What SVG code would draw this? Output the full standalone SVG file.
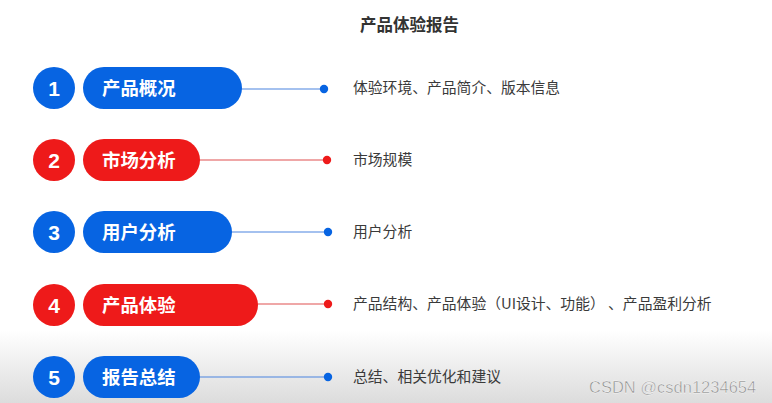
<svg xmlns="http://www.w3.org/2000/svg" width="772" height="403" viewBox="0 0 772 403">
<defs>
<linearGradient id="bg" x1="0" y1="0" x2="0" y2="1">
<stop offset="0" stop-color="#ffffff"/>
<stop offset="0.82" stop-color="#ffffff"/>
<stop offset="1" stop-color="#dcdcdc"/>
</linearGradient>
<style>
.blue{fill:#0764E2}
.red{fill:#EE1A1A}
.num{font-family:"Liberation Sans","Noto Sans CJK SC",sans-serif;font-weight:bold;font-size:21px;fill:#fff;text-anchor:middle}
.lbl{font-family:"Noto Sans CJK SC",sans-serif;font-weight:bold;font-size:18.4px;fill:#fff}
.desc{font-family:"Noto Sans CJK SC",sans-serif;font-size:14.8px;fill:#3a3a3a}
.lb{stroke:#4A84E0;stroke-width:1.2}
.lr{stroke:#E05050;stroke-width:1.2}
</style>
</defs>
<rect width="772" height="403" fill="url(#bg)"/>
<text x="360" y="31" font-family="'Noto Sans CJK SC',sans-serif" font-weight="bold" font-size="16.5" fill="#333">产品体验报告</text>
<g id="connectors">
<line class="lb" x1="240" y1="89" x2="324" y2="89"/><circle class="blue" cx="324" cy="89" r="4.2"/>
<line class="lr" x1="198" y1="160" x2="327" y2="160"/><circle class="red" cx="327" cy="160" r="4.2"/>
<line class="lb" x1="230" y1="232" x2="328" y2="232"/><circle class="blue" cx="328" cy="232" r="4.2"/>
<line class="lr" x1="256" y1="304" x2="328" y2="304"/><circle class="red" cx="328" cy="304" r="4.2"/>
<line class="lb" x1="198" y1="377" x2="328" y2="377"/><circle class="blue" cx="328" cy="377" r="4.2"/>
</g>
<g id="n1">
<circle class="blue" cx="54" cy="88" r="21"/><text class="num" x="54" y="95.5">1</text>
<rect class="blue" x="83" y="67" width="159" height="42" rx="21"/><text class="lbl" x="102" y="94.5">产品概况</text>
<text class="desc" x="353" y="93">体验环境、产品简介、版本信息</text>
</g>
<g id="n2">
<circle class="red" cx="54" cy="160" r="21"/><text class="num" x="54" y="167.5">2</text>
<rect class="red" x="83" y="139" width="117" height="42" rx="21"/><text class="lbl" x="102" y="166.5">市场分析</text>
<text class="desc" x="353" y="165">市场规模</text>
</g>
<g id="n3">
<circle class="blue" cx="54" cy="232" r="21"/><text class="num" x="54" y="239.5">3</text>
<rect class="blue" x="83" y="211" width="149" height="42" rx="21"/><text class="lbl" x="102" y="238.5">用户分析</text>
<text class="desc" x="353" y="237">用户分析</text>
</g>
<g id="n4">
<circle class="red" cx="54" cy="305" r="21"/><text class="num" x="54" y="312.5">4</text>
<rect class="red" x="83" y="284" width="175" height="42" rx="21"/><text class="lbl" x="102" y="311.5">产品体验</text>
<text class="desc" x="353" y="309" xml:space="preserve">产品结构、产品体验（UI设计、功能） 、产品盈利分析</text>
</g>
<g id="n5">
<circle class="blue" cx="54" cy="377" r="21"/><text class="num" x="54" y="384.5">5</text>
<rect class="blue" x="83" y="356" width="117" height="42" rx="21"/><text class="lbl" x="102" y="383.5">报告总结</text>
<text class="desc" x="353" y="382">总结、相关优化和建议</text>
</g>
<text x="589" y="393" font-family="'Liberation Sans',sans-serif" font-size="16.5" fill="#8a8a8a" stroke="#ffffff" stroke-width="0.4">CSDN @csdn1234654</text>
</svg>
